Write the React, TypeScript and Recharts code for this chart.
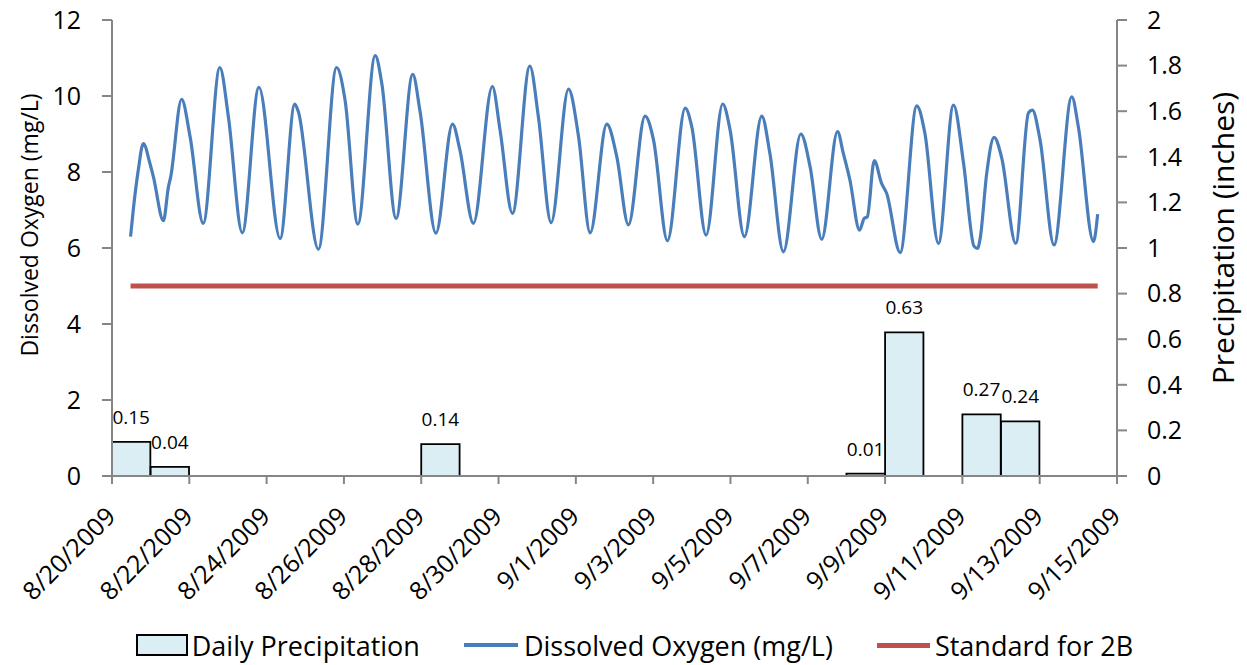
import {
    ComposedChart,
    Bar,
    Line,
    XAxis,
    YAxis,
    Legend,
    LabelList
} from "recharts";

// ==============================
// DATA
// ==============================
const xTickDays = [0, 2, 4, 6, 8, 10, 12, 14, 16, 18, 20, 22, 24, 26];
const xTickLabels = [
    "8/20/2009", "8/22/2009", "8/24/2009", "8/26/2009", "8/28/2009",
    "8/30/2009", "9/1/2009", "9/3/2009", "9/5/2009", "9/7/2009",
    "9/9/2009", "9/11/2009", "9/13/2009", "9/15/2009"
];

// days since 8/20/2009
const precipDays = [0, 1, 8, 19, 20, 22, 23];
const precipValues = [0.15, 0.04, 0.14, 0.01, 0.63, 0.27, 0.24];

const doTimes = [
    0.48, 0.55, 0.68, 0.81, 0.98, 1.07, 1.33, 1.46, 1.52, 1.80,
    2.02, 2.36, 2.79, 3.01, 3.37, 3.80, 4.35, 4.73, 4.82, 5.34,
    5.81, 6.03, 6.36, 6.81, 6.98, 7.35, 7.78, 7.97, 8.38, 8.81,
    9.00, 9.35, 9.84, 10.04, 10.36, 10.81, 11.03, 11.36, 11.81, 12.07,
    12.37, 12.80, 13.06, 13.36, 13.79, 14.01, 14.37, 14.83, 15.00, 15.37,
    15.80, 15.99, 16.36, 16.81, 17.02, 17.37, 17.82, 18.06, 18.36, 18.77,
    18.92, 19.09, 19.34, 19.46, 19.54, 19.72, 19.91, 20.04, 20.39, 20.82,
    21.03, 21.38, 21.77, 22.03, 22.30, 22.39, 22.46, 22.63, 22.82, 23.02,
    23.38, 23.71, 23.81, 24.01, 24.37, 24.83, 25.00, 25.39, 25.50
];
const doValues = [
    6.30, 7.00, 8.05, 8.75, 8.23, 7.88, 6.72, 7.61, 7.88, 9.91,
    8.93, 6.65, 10.75, 9.46, 6.40, 10.23, 6.25, 9.79, 9.59, 5.97,
    10.75, 9.89, 6.63, 11.06, 10.33, 6.78, 10.57, 9.59, 6.39, 9.26,
    8.58, 6.65, 10.25, 9.10, 6.91, 10.79, 9.46, 6.67, 10.18, 8.93,
    6.40, 9.26, 8.40, 6.61, 9.47, 8.84, 6.19, 9.68, 9.19, 6.34,
    9.79, 9.11, 6.30, 9.47, 8.49, 5.90, 9.00, 8.14, 6.23, 9.06,
    8.49, 7.79, 6.47, 6.78, 6.82, 8.30, 7.70, 7.44, 5.88, 9.74,
    9.02, 6.12, 9.76, 8.23, 6.05, 5.99, 6.25, 7.97, 8.91, 8.36,
    6.12, 9.56, 9.63, 8.84, 6.08, 9.98, 9.19, 6.17, 6.89
];

const standardValue = 5;
const standardStart = 0.48;
const standardEnd = 25.5;

const leftTicks = [0, 2, 4, 6, 8, 10, 12];
const rightTicks = [0, 0.2, 0.4, 0.6, 0.8, 1, 1.2, 1.4, 1.6, 1.8, 2];

// ==============================
// STYLE
// ==============================
const FONT = "'Open Sans', Lato, sans-serif";
const AXIS_GRAY = "#868686";
const BLUE = "#4A7EBB";
const RED = "#C0504D";
const BAR_FILL = "#DBEEF3";

const WIDTH = 1247;
const HEIGHT = 665;
const LEFT_W = 112;
const RIGHT_W = 130;
const DAY_PX = (WIDTH - LEFT_W - RIGHT_W) / 26;

const precipData = precipDays.map((d, i) => ({
    t: d + 0.5,
    p: precipValues[i]
}));

const doData = doTimes.map((t, i) => ({
    t,
    v: doValues[i]
}));

const standardData = [
    { t: standardStart, s: standardValue },
    { t: standardEnd, s: standardValue }
];

const DateTick = ({ x, y, payload }: any) => {
    const idx = xTickDays.indexOf(payload.value);
    return (
        <g transform={`translate(${x + 5},${y + 32})`}>
            <text
                x={0}
                y={0}
                textAnchor="end"
                transform="rotate(-45)"
                fontSize={25}
                fontFamily={FONT}
                fill="#000"
            >
                {xTickLabels[idx]}
            </text>
        </g>
    );
};

const LeftTitle = () => (
    <text
        x={29}
        y={225}
        transform="rotate(-90 29 225)"
        textAnchor="middle"
        dominantBaseline="central"
        fontSize={23}
        fontFamily={FONT}
        fill="#000"
    >
        Dissolved Oxygen (mg/L)
    </text>
);

const RightTitle = () => (
    <text
        x={1222}
        y={238}
        transform="rotate(-90 1222 238)"
        textAnchor="middle"
        dominantBaseline="central"
        fontSize={30}
        fontFamily={FONT}
        fill="#000"
    >
        Precipitation (inches)
    </text>
);

const LegendContent = () => (
    <div
        style={{
            display: "flex",
            justifyContent: "center",
            alignItems: "center",
            height: 40,
            fontFamily: FONT,
            fontSize: 27,
            color: "#000",
            gap: 44,
            paddingLeft: 22
        }}
    >
        <div style={{ display: "flex", alignItems: "center" }}>
            <span
                style={{
                    display: "inline-block",
                    width: 48,
                    height: 18,
                    background: BAR_FILL,
                    border: "2px solid #000",
                    marginRight: 4
                }}
            />
            Daily Precipitation
        </div>
        <div style={{ display: "flex", alignItems: "center" }}>
            <span
                style={{
                    display: "inline-block",
                    width: 54,
                    height: 4,
                    background: BLUE,
                    marginRight: 6
                }}
            />
            Dissolved Oxygen (mg/L)
        </div>
        <div style={{ display: "flex", alignItems: "center" }}>
            <span
                style={{
                    display: "inline-block",
                    width: 53,
                    height: 5,
                    background: RED,
                    marginRight: 5
                }}
            />
            Standard for 2B
        </div>
    </div>
);

export default function App() {
    return (
        <div style={{ position: "absolute", left: 0, top: 0, background: "#fff" }}>
            <ComposedChart
                width={WIDTH}
                height={HEIGHT}
                data={precipData}
                margin={{ top: 20, right: 0, bottom: 0, left: 0 }}
            >
                <XAxis
                    dataKey="t"
                    type="number"
                    domain={[0, 26]}
                    ticks={xTickDays}
                    interval={0}
                    height={149}
                    stroke={AXIS_GRAY}
                    strokeWidth={2}
                    tickSize={8}
                    tickMargin={2}
                    tick={<DateTick />}
                    allowDataOverflow
                />
                <XAxis
                    xAxisId="line"
                    dataKey="t"
                    type="number"
                    domain={[0, 26]}
                    hide
                    allowDataOverflow
                />
                <YAxis
                    yAxisId="do"
                    domain={[0, 12]}
                    ticks={leftTicks}
                    width={LEFT_W}
                    stroke={AXIS_GRAY}
                    strokeWidth={2}
                    tickSize={10}
                    tickMargin={21}
                    tick={{ fill: "#000", fontSize: 25, fontFamily: FONT }}
                    label={{ content: () => <LeftTitle /> }}
                />
                <YAxis
                    yAxisId="p"
                    orientation="right"
                    domain={[0, 2]}
                    ticks={rightTicks}
                    width={RIGHT_W}
                    stroke={AXIS_GRAY}
                    strokeWidth={2}
                    tickSize={10}
                    tickMargin={20}
                    tickFormatter={(v: number) => String(Number(v.toFixed(1)))}
                    tick={{ fill: "#000", fontSize: 25, fontFamily: FONT }}
                    label={{ content: () => <RightTitle /> }}
                />
                <Legend
                    verticalAlign="bottom"
                    height={40}
                    content={<LegendContent />}
                />
                <Bar
                    yAxisId="p"
                    dataKey="p"
                    barSize={DAY_PX - 0.3}
                    fill={BAR_FILL}
                    stroke="#000"
                    strokeWidth={1.8}
                    isAnimationActive={false}
                >
                    <LabelList
                        dataKey="p"
                        position="top"
                        offset={18}
                        formatter={(v: any) => Number(v).toFixed(2)}
                        style={{ fontSize: 19, fontFamily: FONT, fill: "#000" }}
                    />
                </Bar>
                <Line
                    xAxisId="line"
                    yAxisId="do"
                    data={doData}
                    dataKey="v"
                    type="monotone"
                    stroke={BLUE}
                    strokeWidth={3.2}
                    dot={false}
                    activeDot={false}
                    isAnimationActive={false}
                />
                <Line
                    xAxisId="line"
                    yAxisId="do"
                    data={standardData}
                    dataKey="s"
                    type="linear"
                    stroke={RED}
                    strokeWidth={5}
                    dot={false}
                    activeDot={false}
                    isAnimationActive={false}
                />
            </ComposedChart>
        </div>
    );
}
